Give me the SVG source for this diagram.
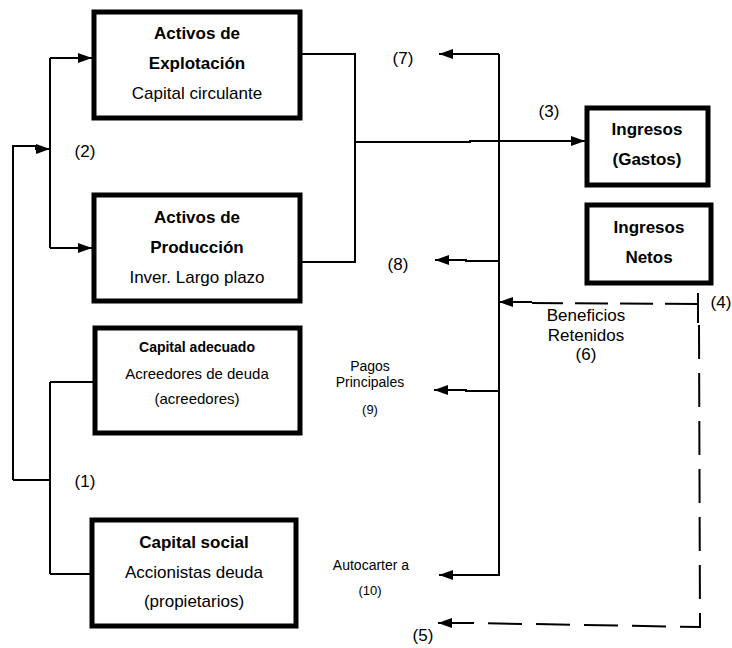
<svg xmlns="http://www.w3.org/2000/svg" width="732" height="648" viewBox="0 0 732 648">
<style>
text{font-family:"Liberation Sans",Arial,sans-serif;fill:#000;text-anchor:middle}
.b{font-weight:bold;font-size:17px}
.r{font-size:17px}
.s{font-size:14px}
.xs{font-size:13px}
.box{fill:#fff;stroke:#000;stroke-width:5}
.ln{fill:none;stroke:#000;stroke-width:2}
.ds{fill:none;stroke:#000;stroke-width:2}
</style>
<defs>
<marker id="ah" viewBox="0 0 14 10" refX="14" refY="5" markerWidth="14" markerHeight="10" markerUnits="userSpaceOnUse" orient="auto">
<path d="M0,0 L14,5 L0,10 z" fill="#000"/>
</marker>
</defs>
<rect width="732" height="648" fill="#fff"/>
<g id="connectors">
<path class="ln" d="M13,480 V146 H36 V149 H50" marker-end="url(#ah)"/>
<path class="ln" d="M50,58 V248"/>
<path class="ln" d="M50,58 H92" marker-end="url(#ah)"/>
<path class="ln" d="M50,248 H92" marker-end="url(#ah)"/>
<path class="ln" d="M13,480 H50"/>
<path class="ln" d="M50,382 V574"/>
<path class="ln" d="M50,382 H93"/>
<path class="ln" d="M50,574 H90"/>
<path class="ln" d="M302,54 H355 V262 H302"/>
<path class="ln" d="M355,142 H470 V141 H585" marker-end="url(#ah)"/>
<path class="ln" d="M499,54 V576"/>
<path class="ln" d="M499,54 H439" marker-end="url(#ah)"/>
<path class="ln" d="M499,261 H466 V260 H435" marker-end="url(#ah)"/>
<path class="ln" d="M499,391 H466 V390 H434" marker-end="url(#ah)"/>
<path class="ln" d="M499,575 H439" marker-end="url(#ah)"/>
<path class="ds" stroke-dasharray="33 12" d="M698,304 L532,303"/>
<path class="ln" d="M532,302 H499" marker-end="url(#ah)"/>
<path class="ln" d="M698,293 V323"/>
<path class="ds" stroke-dasharray="34 14" d="M699,325 L700,627 L472,623"/>
<path class="ln" d="M472,623 H438" marker-end="url(#ah)"/>
</g>
<g id="n-explotacion">
<rect class="box" x="94" y="12" width="206" height="106"/>
<text class="b" x="197" y="39">Activos de</text>
<text class="b" x="197" y="69">Explotación</text>
<text class="r" x="197" y="99">Capital circulante</text>
</g>
<g id="n-produccion">
<rect class="box" x="94" y="195" width="206" height="106"/>
<text class="b" x="197" y="223">Activos de</text>
<text class="b" x="197" y="253">Producción</text>
<text class="r" x="197" y="283">Inver. Largo plazo</text>
</g>
<g id="n-capital-adecuado">
<rect class="box" x="95" y="328" width="205" height="105"/>
<text x="197" y="352" style="font-weight:bold;font-size:14px">Capital adecuado</text>
<text x="197" y="379" style="font-size:15px">Acreedores de deuda</text>
<text x="197" y="404" style="font-size:15px">(acreedores)</text>
</g>
<g id="n-capital-social">
<rect class="box" x="92" y="520" width="204" height="106"/>
<text class="b" x="194" y="548">Capital social</text>
<text class="r" x="194" y="578">Accionistas deuda</text>
<text class="r" x="194" y="607">(propietarios)</text>
</g>
<g id="n-ingresos-gastos">
<rect class="box" x="587" y="108" width="121" height="77"/>
<text class="b" x="647" y="135">Ingresos</text>
<text class="b" x="647" y="165">(Gastos)</text>
</g>
<g id="n-ingresos-netos">
<rect class="box" x="587" y="205" width="124" height="78"/>
<text class="b" x="649" y="233">Ingresos</text>
<text class="b" x="649" y="263">Netos</text>
</g>
<g id="labels">
<text class="r" x="85" y="157">(2)</text>
<text class="r" x="85" y="487">(1)</text>
<text class="r" x="403" y="64">(7)</text>
<text class="r" x="549" y="117">(3)</text>
<text class="r" x="398" y="270">(8)</text>
<text class="r" x="721" y="308">(4)</text>
<text class="r" x="586" y="321">Beneficios</text>
<text class="r" x="586" y="341">Retenidos</text>
<text class="r" x="586" y="360">(6)</text>
<text class="s" x="370" y="371">Pagos</text>
<text class="s" x="370" y="387">Principales</text>
<text class="xs" x="370" y="414">(9)</text>
<text class="s" x="371" y="570">Autocarter a</text>
<text class="xs" x="370" y="595">(10)</text>
<text class="r" x="423" y="641">(5)</text>
</g>
</svg>
